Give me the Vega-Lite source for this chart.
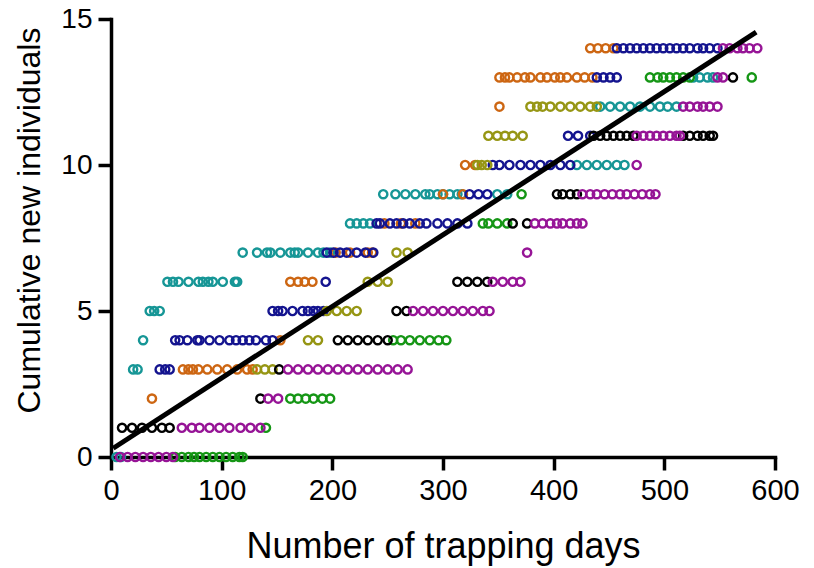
{
  "$schema": "https://vega.github.io/schema/vega-lite/v6.json",
  "width": 664,
  "height": 438,
  "autosize": {"type": "none"},
  "padding": {"left": 111, "top": 19, "right": 39, "bottom": 111},
  "background": "white",
  "config": {"view": {"stroke": null}},
  "datasets": {
    "pts": [
      {"s":"T","d":5,"n":0},{"s":"T","d":9,"n":0},
      {"s":"T","d":20,"n":3},{"s":"T","d":24,"n":3},
      {"s":"T","d":29,"n":4},
      {"s":"T","d":35,"n":5},{"s":"T","d":39,"n":5},{"s":"T","d":44,"n":5},
      {"s":"T","d":51,"n":6},{"s":"T","d":56,"n":6},{"s":"T","d":61,"n":6},{"s":"T","d":70,"n":6},{"s":"T","d":79,"n":6},{"s":"T","d":83,"n":6},{"s":"T","d":88,"n":6},{"s":"T","d":92,"n":6},{"s":"T","d":101,"n":6},{"s":"T","d":112,"n":6},{"s":"T","d":114,"n":6},
      {"s":"T","d":119,"n":7},{"s":"T","d":132,"n":7},{"s":"T","d":141,"n":7},{"s":"T","d":144,"n":7},{"s":"T","d":153,"n":7},{"s":"T","d":162,"n":7},{"s":"T","d":166,"n":7},{"s":"T","d":169,"n":7},{"s":"T","d":178,"n":7},{"s":"T","d":187,"n":7},{"s":"T","d":192,"n":7},{"s":"T","d":198,"n":7},
      {"s":"T","d":216,"n":8},{"s":"T","d":222,"n":8},{"s":"T","d":228,"n":8},{"s":"T","d":234,"n":8},
      {"s":"T","d":246,"n":9},{"s":"T","d":257,"n":9},{"s":"T","d":266,"n":9},{"s":"T","d":275,"n":9},{"s":"T","d":284,"n":9},{"s":"T","d":288,"n":9},{"s":"T","d":295,"n":9},{"s":"T","d":300,"n":9},{"s":"T","d":306,"n":9},{"s":"T","d":313,"n":9},{"s":"T","d":317,"n":9},{"s":"T","d":349,"n":9},{"s":"T","d":358,"n":9},
      {"s":"T","d":421,"n":10},{"s":"T","d":430,"n":10},{"s":"T","d":439,"n":10},{"s":"T","d":448,"n":10},{"s":"T","d":457,"n":10},{"s":"T","d":464,"n":10},
      {"s":"T","d":442,"n":12},{"s":"T","d":451,"n":12},{"s":"T","d":460,"n":12},{"s":"T","d":469,"n":12},{"s":"T","d":478,"n":12},{"s":"T","d":487,"n":12},{"s":"T","d":496,"n":12},{"s":"T","d":503,"n":12},{"s":"T","d":511,"n":12},
      {"s":"T","d":526,"n":13},{"s":"T","d":532,"n":13},{"s":"T","d":539,"n":13},{"s":"T","d":544,"n":13},

      {"s":"O","d":37,"n":2},
      {"s":"O","d":65,"n":3},{"s":"O","d":70,"n":3},{"s":"O","d":74,"n":3},{"s":"O","d":79,"n":3},{"s":"O","d":87,"n":3},{"s":"O","d":96,"n":3},{"s":"O","d":105,"n":3},{"s":"O","d":114,"n":3},{"s":"O","d":123,"n":3},{"s":"O","d":128,"n":3},
      {"s":"O","d":153,"n":4},
      {"s":"O","d":162,"n":6},{"s":"O","d":169,"n":6},{"s":"O","d":175,"n":6},{"s":"O","d":182,"n":6},
      {"s":"O","d":203,"n":7},{"s":"O","d":216,"n":7},{"s":"O","d":232,"n":7},{"s":"O","d":236,"n":7},
      {"s":"O","d":247,"n":8},{"s":"O","d":262,"n":8},{"s":"O","d":275,"n":8},
      {"s":"O","d":300,"n":9},{"s":"O","d":318,"n":9},
      {"s":"O","d":320,"n":10},{"s":"O","d":329,"n":10},
      {"s":"O","d":351,"n":12},
      {"s":"O","d":351,"n":13},{"s":"O","d":356,"n":13},{"s":"O","d":360,"n":13},{"s":"O","d":367,"n":13},{"s":"O","d":374,"n":13},{"s":"O","d":379,"n":13},{"s":"O","d":388,"n":13},{"s":"O","d":394,"n":13},{"s":"O","d":401,"n":13},{"s":"O","d":406,"n":13},{"s":"O","d":412,"n":13},{"s":"O","d":421,"n":13},{"s":"O","d":428,"n":13},{"s":"O","d":435,"n":13},
      {"s":"O","d":433,"n":14},{"s":"O","d":440,"n":14},{"s":"O","d":447,"n":14},{"s":"O","d":454,"n":14},

      {"s":"B","d":44,"n":3},{"s":"B","d":49,"n":3},{"s":"B","d":53,"n":3},
      {"s":"B","d":58,"n":4},{"s":"B","d":62,"n":4},{"s":"B","d":69,"n":4},{"s":"B","d":78,"n":4},{"s":"B","d":80,"n":4},{"s":"B","d":89,"n":4},{"s":"B","d":98,"n":4},{"s":"B","d":107,"n":4},{"s":"B","d":113,"n":4},{"s":"B","d":119,"n":4},{"s":"B","d":125,"n":4},{"s":"B","d":131,"n":4},{"s":"B","d":140,"n":4},{"s":"B","d":146,"n":4},
      {"s":"B","d":146,"n":5},{"s":"B","d":151,"n":5},{"s":"B","d":155,"n":5},{"s":"B","d":164,"n":5},{"s":"B","d":173,"n":5},{"s":"B","d":178,"n":5},{"s":"B","d":183,"n":5},{"s":"B","d":187,"n":5},{"s":"B","d":192,"n":5},
      {"s":"B","d":194,"n":6},
      {"s":"B","d":195,"n":7},{"s":"B","d":201,"n":7},{"s":"B","d":207,"n":7},{"s":"B","d":213,"n":7},{"s":"B","d":222,"n":7},{"s":"B","d":230,"n":7},{"s":"B","d":237,"n":7},
      {"s":"B","d":240,"n":8},{"s":"B","d":243,"n":8},{"s":"B","d":252,"n":8},{"s":"B","d":258,"n":8},{"s":"B","d":264,"n":8},{"s":"B","d":270,"n":8},{"s":"B","d":279,"n":8},{"s":"B","d":285,"n":8},{"s":"B","d":295,"n":8},{"s":"B","d":304,"n":8},{"s":"B","d":313,"n":8},{"s":"B","d":322,"n":8},
      {"s":"B","d":324,"n":9},{"s":"B","d":332,"n":9},{"s":"B","d":340,"n":9},
      {"s":"B","d":345,"n":10},{"s":"B","d":351,"n":10},{"s":"B","d":360,"n":10},{"s":"B","d":370,"n":10},{"s":"B","d":379,"n":10},{"s":"B","d":388,"n":10},{"s":"B","d":397,"n":10},{"s":"B","d":406,"n":10},{"s":"B","d":415,"n":10},
      {"s":"B","d":413,"n":11},{"s":"B","d":422,"n":11},{"s":"B","d":433,"n":11},
      {"s":"B","d":439,"n":13},{"s":"B","d":445,"n":13},{"s":"B","d":451,"n":13},{"s":"B","d":457,"n":13},
      {"s":"B","d":457,"n":14},{"s":"B","d":463,"n":14},{"s":"B","d":469,"n":14},{"s":"B","d":475,"n":14},{"s":"B","d":481,"n":14},{"s":"B","d":487,"n":14},{"s":"B","d":493,"n":14},{"s":"B","d":499,"n":14},{"s":"B","d":505,"n":14},{"s":"B","d":511,"n":14},{"s":"B","d":517,"n":14},{"s":"B","d":523,"n":14},{"s":"B","d":530,"n":14},{"s":"B","d":535,"n":14},{"s":"B","d":541,"n":14},{"s":"B","d":548,"n":14},

      {"s":"L","d":132,"n":3},{"s":"L","d":139,"n":3},{"s":"L","d":146,"n":3},
      {"s":"L","d":178,"n":4},{"s":"L","d":187,"n":4},
      {"s":"L","d":195,"n":5},{"s":"L","d":204,"n":5},{"s":"L","d":213,"n":5},{"s":"L","d":222,"n":5},
      {"s":"L","d":232,"n":6},{"s":"L","d":241,"n":6},{"s":"L","d":250,"n":6},
      {"s":"L","d":258,"n":7},{"s":"L","d":268,"n":7},
      {"s":"L","d":331,"n":10},{"s":"L","d":335,"n":10},{"s":"L","d":340,"n":10},
      {"s":"L","d":341,"n":11},{"s":"L","d":349,"n":11},{"s":"L","d":356,"n":11},{"s":"L","d":363,"n":11},{"s":"L","d":372,"n":11},
      {"s":"L","d":379,"n":12},{"s":"L","d":385,"n":12},{"s":"L","d":390,"n":12},{"s":"L","d":397,"n":12},{"s":"L","d":406,"n":12},{"s":"L","d":415,"n":12},{"s":"L","d":424,"n":12},{"s":"L","d":433,"n":12},{"s":"L","d":439,"n":12},

      {"s":"G","d":58,"n":0},{"s":"G","d":64,"n":0},{"s":"G","d":70,"n":0},{"s":"G","d":75,"n":0},{"s":"G","d":80,"n":0},{"s":"G","d":86,"n":0},{"s":"G","d":92,"n":0},{"s":"G","d":98,"n":0},{"s":"G","d":104,"n":0},{"s":"G","d":110,"n":0},{"s":"G","d":116,"n":0},{"s":"G","d":119,"n":0},
      {"s":"G","d":140,"n":1},
      {"s":"G","d":162,"n":2},{"s":"G","d":169,"n":2},{"s":"G","d":176,"n":2},{"s":"G","d":183,"n":2},{"s":"G","d":191,"n":2},{"s":"G","d":198,"n":2},
      {"s":"G","d":255,"n":4},{"s":"G","d":262,"n":4},{"s":"G","d":270,"n":4},{"s":"G","d":279,"n":4},{"s":"G","d":288,"n":4},{"s":"G","d":296,"n":4},{"s":"G","d":303,"n":4},
      {"s":"G","d":336,"n":8},{"s":"G","d":341,"n":8},{"s":"G","d":349,"n":8},{"s":"G","d":358,"n":8},
      {"s":"G","d":371,"n":9},
      {"s":"G","d":487,"n":13},{"s":"G","d":494,"n":13},{"s":"G","d":499,"n":13},{"s":"G","d":505,"n":13},{"s":"G","d":511,"n":13},{"s":"G","d":517,"n":13},{"s":"G","d":523,"n":13},{"s":"G","d":579,"n":13},

      {"s":"K","d":10,"n":1},{"s":"K","d":19,"n":1},{"s":"K","d":28,"n":1},{"s":"K","d":37,"n":1},{"s":"K","d":46,"n":1},{"s":"K","d":53,"n":1},
      {"s":"K","d":135,"n":2},
      {"s":"K","d":152,"n":3},
      {"s":"K","d":205,"n":4},{"s":"K","d":214,"n":4},{"s":"K","d":223,"n":4},{"s":"K","d":232,"n":4},{"s":"K","d":241,"n":4},{"s":"K","d":250,"n":4},
      {"s":"K","d":258,"n":5},{"s":"K","d":267,"n":5},
      {"s":"K","d":313,"n":6},{"s":"K","d":322,"n":6},{"s":"K","d":331,"n":6},{"s":"K","d":340,"n":6},
      {"s":"K","d":363,"n":8},{"s":"K","d":376,"n":8},
      {"s":"K","d":403,"n":9},{"s":"K","d":408,"n":9},{"s":"K","d":415,"n":9},{"s":"K","d":421,"n":9},
      {"s":"K","d":436,"n":11},{"s":"K","d":442,"n":11},{"s":"K","d":448,"n":11},{"s":"K","d":454,"n":11},{"s":"K","d":460,"n":11},{"s":"K","d":466,"n":11},{"s":"K","d":472,"n":11},{"s":"K","d":517,"n":11},{"s":"K","d":523,"n":11},{"s":"K","d":530,"n":11},{"s":"K","d":535,"n":11},{"s":"K","d":541,"n":11},{"s":"K","d":544,"n":11},
      {"s":"K","d":562,"n":13},

      {"s":"P","d":8,"n":0},{"s":"P","d":15,"n":0},{"s":"P","d":22,"n":0},{"s":"P","d":29,"n":0},{"s":"P","d":36,"n":0},{"s":"P","d":43,"n":0},{"s":"P","d":50,"n":0},{"s":"P","d":56,"n":0},
      {"s":"P","d":64,"n":1},{"s":"P","d":73,"n":1},{"s":"P","d":80,"n":1},{"s":"P","d":89,"n":1},{"s":"P","d":98,"n":1},{"s":"P","d":107,"n":1},{"s":"P","d":117,"n":1},{"s":"P","d":126,"n":1},{"s":"P","d":135,"n":1},
      {"s":"P","d":142,"n":2},{"s":"P","d":151,"n":2},
      {"s":"P","d":160,"n":3},{"s":"P","d":169,"n":3},{"s":"P","d":178,"n":3},{"s":"P","d":187,"n":3},{"s":"P","d":196,"n":3},{"s":"P","d":205,"n":3},{"s":"P","d":214,"n":3},{"s":"P","d":223,"n":3},{"s":"P","d":232,"n":3},{"s":"P","d":241,"n":3},{"s":"P","d":250,"n":3},{"s":"P","d":259,"n":3},{"s":"P","d":268,"n":3},
      {"s":"P","d":273,"n":5},{"s":"P","d":282,"n":5},{"s":"P","d":291,"n":5},{"s":"P","d":300,"n":5},{"s":"P","d":309,"n":5},{"s":"P","d":318,"n":5},{"s":"P","d":327,"n":5},{"s":"P","d":336,"n":5},{"s":"P","d":342,"n":5},
      {"s":"P","d":345,"n":6},{"s":"P","d":354,"n":6},{"s":"P","d":363,"n":6},{"s":"P","d":370,"n":6},
      {"s":"P","d":376,"n":7},
      {"s":"P","d":383,"n":8},{"s":"P","d":390,"n":8},{"s":"P","d":397,"n":8},{"s":"P","d":403,"n":8},{"s":"P","d":408,"n":8},{"s":"P","d":415,"n":8},{"s":"P","d":421,"n":8},{"s":"P","d":426,"n":8},
      {"s":"P","d":426,"n":9},{"s":"P","d":433,"n":9},{"s":"P","d":439,"n":9},{"s":"P","d":446,"n":9},{"s":"P","d":453,"n":9},{"s":"P","d":460,"n":9},{"s":"P","d":466,"n":9},{"s":"P","d":473,"n":9},{"s":"P","d":480,"n":9},{"s":"P","d":487,"n":9},{"s":"P","d":492,"n":9},
      {"s":"P","d":475,"n":10},
      {"s":"P","d":475,"n":11},{"s":"P","d":481,"n":11},{"s":"P","d":487,"n":11},{"s":"P","d":493,"n":11},{"s":"P","d":499,"n":11},{"s":"P","d":505,"n":11},{"s":"P","d":511,"n":11},{"s":"P","d":514,"n":11},
      {"s":"P","d":517,"n":12},{"s":"P","d":523,"n":12},{"s":"P","d":530,"n":12},{"s":"P","d":535,"n":12},{"s":"P","d":541,"n":12},{"s":"P","d":548,"n":12},
      {"s":"P","d":548,"n":13},{"s":"P","d":553,"n":13},
      {"s":"P","d":553,"n":14},{"s":"P","d":559,"n":14},{"s":"P","d":566,"n":14},{"s":"P","d":571,"n":14},{"s":"P","d":577,"n":14},{"s":"P","d":584,"n":14}
    ],
    "fit": [
      {"d": 2, "n": 0.3},
      {"d": 583, "n": 14.55}
    ]
  },
  "layer": [
    {
      "data": {"name": "pts"},
      "mark": {"type": "point", "filled": false, "size": 68, "strokeWidth": 2.4, "opacity": 1, "clip": false},
      "encoding": {
        "x": {
          "field": "d", "type": "quantitative",
          "scale": {"domain": [0, 600], "nice": false, "zero": false},
          "axis": {
            "title": "Number of trapping days",
            "values": [0, 100, 200, 300, 400, 500, 600],
            "grid": false,
            "domainColor": "black", "domainWidth": 3.5, "domainCap": "square",
            "tickColor": "black", "tickWidth": 3.5, "tickSize": 13,
            "labelFont": "Liberation Sans", "labelFontSize": 29, "labelColor": "black", "labelPadding": 6,
            "labelFlush": false, "labelOverlap": false,
            "titleFont": "Liberation Sans", "titleFontSize": 36, "titleFontWeight": "normal", "titleColor": "black", "titlePadding": 24
          }
        },
        "y": {
          "field": "n", "type": "quantitative",
          "scale": {"domain": [0, 15], "nice": false, "zero": false},
          "axis": {
            "title": "Cumulative new individuals",
            "values": [0, 5, 10, 15],
            "grid": false,
            "domainColor": "black", "domainWidth": 3.5, "domainCap": "square",
            "tickColor": "black", "tickWidth": 3.5, "tickSize": 13,
            "labelFont": "Liberation Sans", "labelFontSize": 28, "labelColor": "black", "labelPadding": 6,
            "labelFlush": false, "labelOverlap": false,
            "titleFont": "Liberation Sans", "titleFontSize": 32, "titleFontWeight": "normal", "titleColor": "black", "titlePadding": 14,
            "titleY": 201
          }
        },
        "color": {
          "field": "s", "type": "nominal",
          "scale": {"domain": ["T", "O", "B", "L", "G", "K", "P"], "range": ["#169696", "#CD6612", "#14148F", "#969614", "#159615", "#000000", "#961496"]},
          "legend": null
        }
      }
    },
    {
      "data": {"name": "fit"},
      "mark": {"type": "line", "color": "black", "strokeWidth": 5, "strokeCap": "butt"},
      "encoding": {
        "x": {"field": "d", "type": "quantitative"},
        "y": {"field": "n", "type": "quantitative"}
      }
    }
  ]
}
